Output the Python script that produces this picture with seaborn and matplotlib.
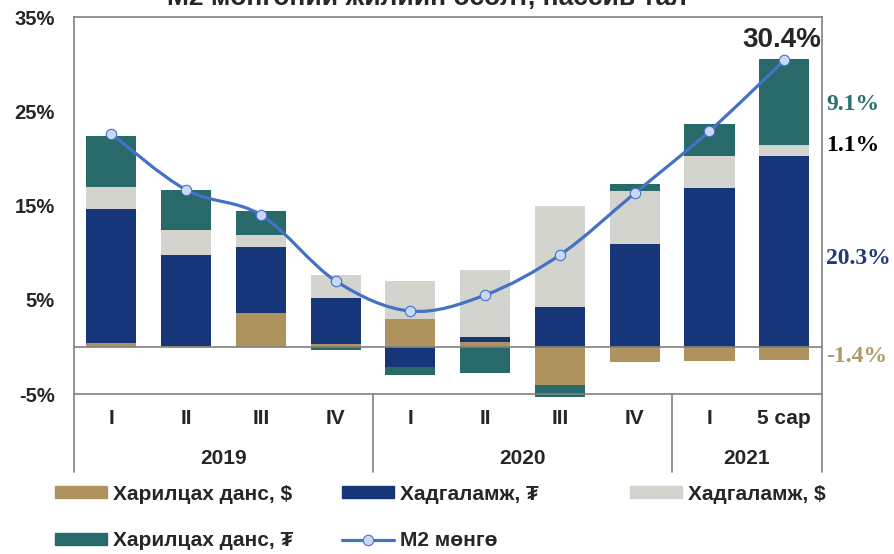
import matplotlib
matplotlib.use("Agg")
import matplotlib.pyplot as plt
import matplotlib.transforms as mtransforms
from matplotlib.path import Path
from matplotlib.patches import PathPatch, Patch
from matplotlib.lines import Line2D
import numpy as np
import seaborn as sns

# data (%)
quarters = ["I", "II", "III", "IV", "I", "II", "III", "IV", "I", "5 сар"]
years = ["2019", "2020", "2021"]
year_pos = [1.5, 5.5, 8.5]
year_bounds = [-0.5, 3.5, 7.5, 9.5]
current_usd = [0.4, 0.05, 3.6, 0.3, 3.0, 0.5, -4.0, -1.6, -1.55, -1.4]     # Харилцах данс, $
savings_mnt = [14.2, 9.7, 7.0, 4.9, -2.1, 0.55, 4.2, 10.96, 16.9, 20.3]    # Хадгаламж, ₮
savings_usd = [2.4, 2.6, 1.25, 2.4, 4.0, 7.1, 10.8, 5.6, 3.4, 1.1]         # Хадгаламж, $
current_mnt = [5.35, 4.25, 2.55, -0.3, -0.85, -2.8, -1.27, 0.7, 3.3, 9.1]  # Харилцах данс, ₮
m2 = [22.6, 16.66, 14.0, 7.0, 3.8, 5.5, 9.76, 16.3, 22.9, 30.4]
side_labels = ["9.1%", "1.1%", "20.3%", "-1.4%"]

tan, navy, grey, teal = "#AF935E", "#17367A", "#D4D4CF", "#286A6A"
line_c = "#4472C4"
frame_c = "#808080"

sns.set_theme(style="white")
plt.rcParams["font.family"] = ["Liberation Sans", "DejaVu Sans"]
plt.rcParams["font.weight"] = "bold"

fig = plt.figure(figsize=(8.95, 5.54), dpi=100)
ax = fig.add_axes([0.0827, 0.2888, 0.918 - 0.0827, 0.9693 - 0.2888])

idx = np.arange(len(quarters))
layers = np.array([current_usd, savings_mnt, savings_usd, current_mnt])
colors = [tan, navy, grey, teal]
cum_pos = np.cumsum(np.clip(layers, 0, None), axis=0)
cum_neg = np.cumsum(np.clip(layers, None, 0), axis=0)

# stacked bars: draw cumulative heights from the outermost layer inwards
for k in range(len(layers) - 1, -1, -1):
    sns.barplot(x=idx, y=cum_pos[k], color=colors[k], saturation=1, width=0.67,
                errorbar=None, linewidth=0, ax=ax)
    sns.barplot(x=idx, y=cum_neg[k], color=colors[k], saturation=1, width=0.67,
                errorbar=None, linewidth=0, ax=ax)
for p in ax.patches:
    p.set_clip_on(False)

ax.axhline(0, color=frame_c, lw=1.2, zorder=3)

# smoothed M2 line (Catmull-Rom as bezier)
pts = np.column_stack([idx, m2]).astype(float)
ext = np.vstack([pts[0], pts, pts[-1]])
verts = [tuple(pts[0])]
codes = [Path.MOVETO]
for i in range(len(pts) - 1):
    p0, p1, p2, p3 = ext[i], ext[i + 1], ext[i + 2], ext[i + 3]
    c1 = p1 + (p2 - p0) / 6
    c2 = p2 - (p3 - p1) / 6
    verts += [tuple(c1), tuple(c2), tuple(p2)]
    codes += [Path.CURVE4] * 3
ax.add_patch(PathPatch(Path(verts, codes), facecolor="none", edgecolor=line_c,
                       lw=2.3, zorder=5))
ax.plot(idx, m2, ls="none", marker="o", ms=7.5, mfc="#C9D8F8", mec=line_c,
        mew=0.8, zorder=6)

ax.set_xlim(-0.5, 9.5)
ax.set_ylim(-5, 35)
ax.set_yticks([-5, 5, 15, 25, 35])
ax.set_yticklabels(["-5%", "5%", "15%", "25%", "35%"], fontsize=14.5, fontweight="bold")
ax.tick_params(axis="y", length=0, pad=14)
ax.set_xticks([])
ax.set_xlabel("")
ax.set_ylabel("")
for s in ax.spines.values():
    s.set_visible(True)
    s.set_color(frame_c)
    s.set_linewidth(1.2)

# category axis below the plot
trans = mtransforms.blended_transform_factory(ax.transData, fig.transFigure)
for x in year_bounds:
    ax.plot([x, x], [0.148, 0.2888], transform=trans, clip_on=False,
            color=frame_c, lw=1.2)
for i, q in enumerate(quarters):
    ax.text(i, 0.2437, q, transform=trans, ha="center", va="center",
            fontsize=15, fontweight="bold")
for x, y in zip(year_pos, years):
    ax.text(x, 0.1715, y, transform=trans, ha="center", va="center",
            fontsize=15, fontweight="bold")

# labels
fig.text(0.477, 0.991, "M2 мөнгөний жилийн өсөлт, пассив тал", ha="center",
         va="baseline", fontsize=19, fontweight="bold")
fig.text(0.874, 0.9283, "30.4%", ha="center", va="center", fontsize=20,
         fontweight="bold")
side_y = [0.8105, 0.738, 0.534, 0.3556]
side_c = ["#2D7070", "black", "#1F3A7A", "#B09A65"]
for t, y, c in zip(side_labels, side_y, side_c):
    fig.text(0.923, y, t, ha="left", va="center", fontsize=17, fontweight="bold",
             color=c, family="Liberation Serif")

# legend
items = [
    (Patch(color=tan), "Харилцах данс, $", 0.0615, 0.1083),
    (Patch(color=navy), "Хадгаламж, ₮", 0.382, 0.1083),
    (Patch(color=grey), "Хадгаламж, $", 0.704, 0.1083),
    (Patch(color=teal), "Харилцах данс, ₮", 0.0615, 0.0235),
    (Line2D([], [], color=line_c, lw=2.3, marker="o", ms=7.5, mfc="#C9D8F8",
            mec=line_c, mew=0.8), "M2 мөнгө", 0.382, 0.0235),
]
for h, lab, x, y in items:
    fig.legend([h], [lab], loc="center left", bbox_to_anchor=(x, y), frameon=False,
               prop={"size": 15, "weight": "bold"}, handlelength=2.5,
               handleheight=0.53, handletextpad=0.3, borderpad=0, borderaxespad=0)

fig.savefig("out.png", dpi=100)
